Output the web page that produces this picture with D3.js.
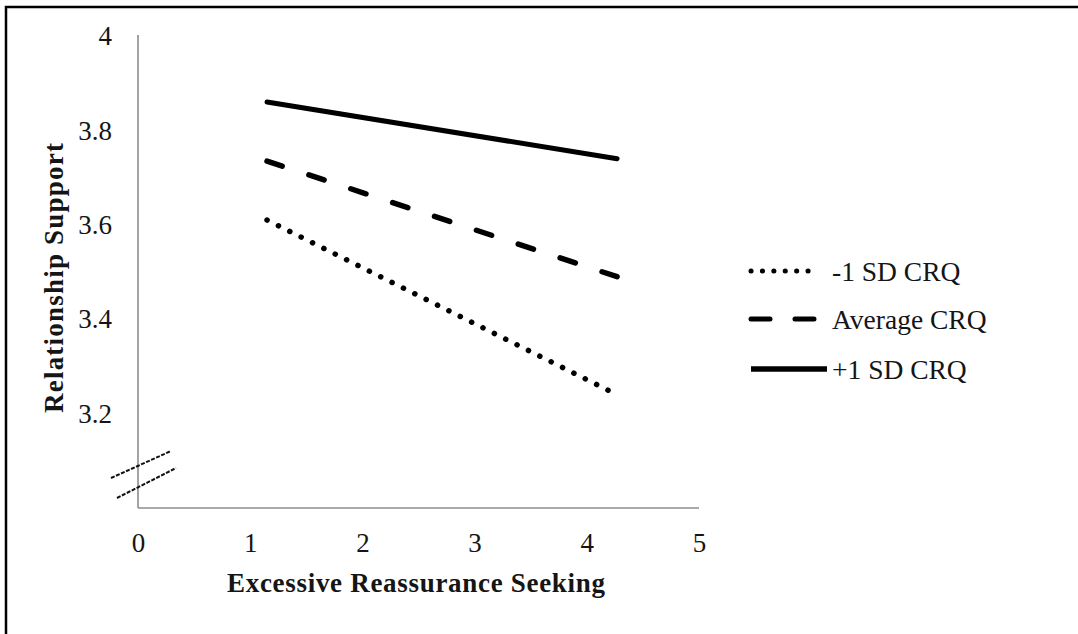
<!DOCTYPE html>
<html>
<head>
<meta charset="utf-8">
<script src="https://cdn.jsdelivr.net/npm/d3@7"></script>
<style>
  body { margin: 0; background: #fff; }
  svg { display: block; font-family: "Liberation Serif", "Times New Roman", serif; }
</style>
</head>
<body>
<svg id="chart" width="1078" height="634"></svg>
<script>
// values
var xPoints = [1.15, 4.27];
var seriesNames = ["-1 SD CRQ", "Average CRQ", "+1 SD CRQ"];
var lowCRQ = [3.61, 3.24];
var avgCRQ = [3.735, 3.49];
var highCRQ = [3.86, 3.74];
var xTicks = [0, 1, 2, 3, 4, 5];
var yTicks = [3.2, 3.4, 3.6, 3.8, 4];

var svg = d3.select("#chart");

// outer frame (only top and left edges fall inside the picture)
svg.append("rect")
    .attr("x", 6).attr("y", 7)
    .attr("width", 1300).attr("height", 800)
    .attr("fill", "none")
    .attr("stroke", "#000")
    .attr("stroke-width", 2.5);

var x = d3.scaleLinear().domain([0, 5]).range([138, 699]);
var y = d3.scaleLinear().domain([3, 4]).range([508, 36]);

var axisColor = "#8c8c8c";
var textColor = "#151515";

// y axis
var yAxis = svg.append("g")
    .attr("transform", "translate(" + x(0) + ",0)")
    .call(d3.axisLeft(y).tickValues(yTicks).tickSize(0).tickPadding(26)
        .tickFormat(function(d) { return d === 4 ? "4" : d3.format(".1f")(d); }));
yAxis.select(".domain").remove();
yAxis.selectAll("text")
    .attr("font-size", 27)
    .attr("font-family", "Liberation Serif")
    .attr("fill", textColor);

svg.append("line")
    .attr("x1", x(0)).attr("x2", x(0))
    .attr("y1", 35).attr("y2", y(3))
    .attr("stroke", axisColor).attr("stroke-width", 1.6);

// x axis
var xAxis = svg.append("g")
    .attr("transform", "translate(0," + y(3) + ")")
    .call(d3.axisBottom(x).tickValues(xTicks).tickSize(0).tickPadding(25)
        .tickFormat(d3.format("d")));
xAxis.select(".domain").remove();
xAxis.selectAll("text")
    .attr("font-size", 27)
    .attr("font-family", "Liberation Serif")
    .attr("fill", textColor);

svg.append("line")
    .attr("x1", x(0)).attr("x2", x(5))
    .attr("y1", y(3)).attr("y2", y(3))
    .attr("stroke", axisColor).attr("stroke-width", 1.6);

// axis break marks
var breaks = [[[111, 478], [171, 451]], [[117, 498], [176, 468]]];
svg.selectAll(".brk")
    .data(breaks)
    .enter().append("line")
    .attr("class", "brk")
    .attr("x1", d => d[0][0]).attr("y1", d => d[0][1])
    .attr("x2", d => d[1][0]).attr("y2", d => d[1][1])
    .attr("stroke", "#111")
    .attr("stroke-width", 2)
    .attr("stroke-dasharray", "4 1.5");

// titles
svg.append("text")
    .attr("x", 416).attr("y", 592)
    .attr("text-anchor", "middle")
    .attr("font-size", 27)
    .attr("font-weight", "bold")
    .attr("fill", textColor)
    .attr("textLength", 378)
    .attr("lengthAdjust", "spacing")
    .text("Excessive Reassurance Seeking");

svg.append("text")
    .attr("transform", "translate(63,278) rotate(-90)")
    .attr("text-anchor", "middle")
    .attr("font-size", 27)
    .attr("font-weight", "bold")
    .attr("fill", textColor)
    .attr("textLength", 270)
    .attr("lengthAdjust", "spacing")
    .text("Relationship Support");

// series lines
var styles = [
    {dash: "0.1 12.6", width: 5.5},
    {dash: "16 28.1", width: 5.5},
    {dash: null, width: 5}
];
var series = [lowCRQ, avgCRQ, highCRQ].map(function(vals, i) {
    return {name: seriesNames[i], style: styles[i],
        points: vals.map(function(v, j) { return [xPoints[j], v]; })};
});

var line = d3.line()
    .x(d => x(d[0]))
    .y(d => y(d[1]));

svg.selectAll(".series")
    .data(series)
    .enter().append("path")
    .attr("class", "series")
    .attr("d", d => line(d.points))
    .attr("fill", "none")
    .attr("stroke", "#000")
    .attr("stroke-width", d => d.style.width)
    .attr("stroke-linecap", "round")
    .attr("stroke-dasharray", d => d.style.dash);

// legend
var legendY = [271, 319, 369];
var legendLen = [68, 69, 76];
var legendDash = ["0.1 11.3", "19 25", null];

var legend = svg.selectAll(".legend")
    .data(series)
    .enter().append("g")
    .attr("class", "legend")
    .attr("transform", (d, i) => "translate(0," + legendY[i] + ")");

legend.append("line")
    .attr("x1", 751)
    .attr("x2", (d, i) => 751 + legendLen[i])
    .attr("y1", 0).attr("y2", 0)
    .attr("stroke", "#000")
    .attr("stroke-width", (d, i) => i === 2 ? 5.5 : 5)
    .attr("stroke-linecap", (d, i) => i === 2 ? "butt" : "round")
    .attr("stroke-dasharray", (d, i) => legendDash[i]);

legend.append("text")
    .attr("x", 832)
    .attr("y", 10)
    .attr("font-size", 27.5)
    .attr("fill", textColor)
    .text(d => d.name);
</script>
</body>
</html>
